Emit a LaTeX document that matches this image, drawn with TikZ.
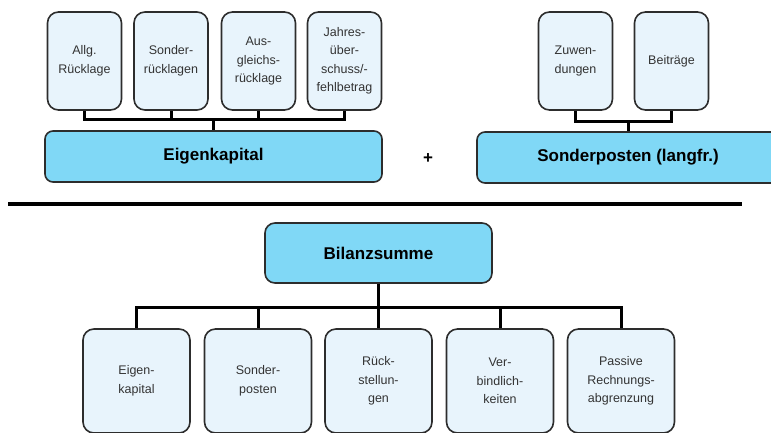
\documentclass[tikz,border=0pt]{standalone}
\usepackage{fontspec}
\setmainfont{Liberation Sans}
\usepackage{xcolor}
\usetikzlibrary{positioning}
\definecolor{paleblue}{RGB}{232,244,252}
\definecolor{skyblue}{RGB}{128,216,246}
\definecolor{rim}{RGB}{45,45,45}

\begin{document}
\begin{tikzpicture}[x=1pt, y=-1pt,
    part/.style={draw=rim, line width=1.6pt, fill=paleblue, rounded corners=11pt,
      minimum width=74pt, minimum height=98pt, inner sep=0pt, align=center,
      font=\fontsize{12.5}{18.5}\selectfont, text=black!80},
    total/.style={draw=rim, line width=1.6pt, fill=skyblue, rounded corners=8pt,
      inner sep=0pt, font=\fontsize{17}{20}\selectfont\bfseries},
    conn/.style={line width=3pt, black}]
    \useasboundingbox (0,0) rectangle (771,432);
    \clip (0,0) rectangle (771,432);
    % Eigenkapital
    \node[part] (allg) at (84.5,61) {Allg.\\Rücklage};
    \node[part] (sonder) at (171,61) {Sonder-\\rücklagen};
    \node[part] (ausgl) at (258.5,61) {Aus-\\gleichs-\\rücklage};
    \node[part] (jahr) at (344.5,61) {Jahres-\\über-\\schuss/-\\fehlbetrag};
    \node[total, minimum width=337pt, minimum height=51pt] (ek) at (213.5,156.5) {Eigenkapital};
    \coordinate (ekbus) at (213.5,119);
    \draw[conn] (allg.south) |- (ekbus) -| (jahr.south);
    \draw[conn] (sonder.south) -- (sonder.south |- ekbus);
    \draw[conn] (ausgl.south) -- (ausgl.south |- ekbus);
    \draw[conn] (ekbus) -- (ek.north);
    %
    \node[font=\fontsize{17}{20}\selectfont\bfseries] (plus) at (428,159) {+};
    % Sonderposten
    \node[part] (zuw) at (575.5,61) {Zuwen-\\dungen};
    \node[part] (beitr) at (671.5,61) {Beiträge};
    \node[total, minimum width=302pt, minimum height=51pt] (sp) at (628,157.5) {Sonderposten (langfr.)};
    \coordinate (spbus) at (628,121);
    \draw[conn] (zuw.south) |- (spbus) -| (beitr.south);
    \draw[conn] (spbus) -- (sp.north);
    % Bruchstrich
    \draw[line width=3.5pt] (8,204) -- (742,204);
    % Bilanzsumme
    \node[total, minimum width=227pt, minimum height=60pt, rounded corners=10pt] (bs) at (378.5,253) {Bilanzsumme};
    \node[part, minimum width=107pt, minimum height=104pt] (ek2) at (136.5,381) {Eigen-\\kapital};
    \node[part, minimum width=107pt, minimum height=104pt] (sp2) at (258,381) {Sonder-\\posten};
    \node[part, minimum width=107pt, minimum height=104pt] (rs) at (378.5,381) {Rück-\\stellun-\\gen};
    \node[part, minimum width=107pt, minimum height=104pt] (vb) at (500,381) {Ver-\\bindlich-\\keiten};
    \node[part, minimum width=107pt, minimum height=104pt] (pra) at (621,381) {Passive\\Rechnungs-\\abgrenzung};
    \coordinate (bsbus) at (378.5,307);
    \draw[conn] (bs.south) -- (bsbus);
    \draw[conn] (ek2.north) |- (bsbus) -| (pra.north);
    \draw[conn] (sp2.north) -- (sp2.north |- bsbus);
    \draw[conn] (rs.north) -- (bsbus);
    \draw[conn] (vb.north) -- (vb.north |- bsbus);
\end{tikzpicture}
\end{document}
